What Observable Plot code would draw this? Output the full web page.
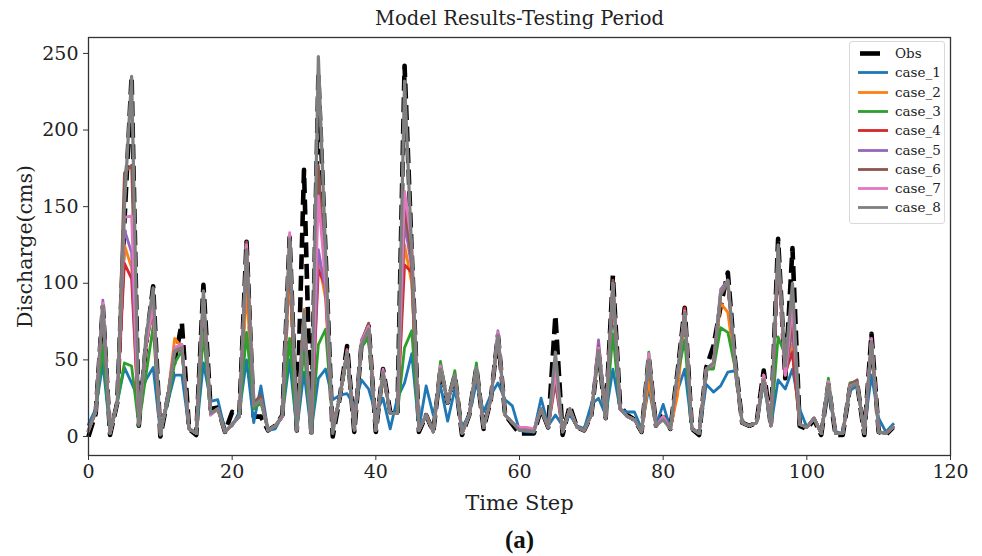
<!DOCTYPE html>
<html><head><meta charset="utf-8">
<script src="https://cdn.jsdelivr.net/npm/d3@7"></script>
<script src="https://cdn.jsdelivr.net/npm/@observablehq/plot@0.6"></script>
<style>
html,body{margin:0;padding:0;background:#fff;}
#wrap{position:relative;width:982px;height:556px;overflow:hidden;background:#fff;}
#legend{position:absolute;left:849px;top:41px;width:96px;height:183px;border:1px solid #d9d9d9;border-radius:3px;background:rgba(255,255,255,0.85);box-sizing:border-box;font-family:"DejaVu Serif";font-size:13.5px;color:#222;}
.row{position:absolute;left:0;height:19px;width:100%;}
.row svg{position:absolute;left:0;top:0;}
.row span{position:absolute;left:45px;top:1px;line-height:16px;}
</style>
</head><body>
<div id="wrap"><div id="legend"></div></div>
<script>
// Observed and simulated discharge (cms) for time steps 0..112
const obs = [0,15,85,1,22,140,235,7,60,98, 0,24,50,74,5,1,99,18,19,3, 16,14,127,13,13,4,7,14,130,4, 174,1,235,120,0,26,59,3,60,72, 3,44,16,14,242,120,3,14,3,44, 22,40,1,14,45,5,24,66,14,8, 2,2,2,18,6,79,1,20,6,4, 14,55,12,105,20,14,11,3,52,7, 16,5,42,84,5,1,45,59,85,107, 50,9,7,9,43,7,129,38,123,7, 5,11,1,34,1,1,32,35,1,67, 3,1,6];
const case1 = [8,18,48,3,22,45,35,24,37,45, 3,22,40,40,5,2,48,23,24,4, 7,16,50,9,33,4,5,14,50,4, 42,3,38,44,24,27,28,20,37,31, 15,25,5,25,35,54,5,33,14,33, 10,31,6,14,35,16,27,35,24,20, 4,3,3,25,7,14,7,14,7,5, 21,25,14,44,18,16,16,5,32,7, 21,5,30,44,5,2,34,29,33,42, 43,9,7,9,35,7,37,31,44,18, 6,12,2,30,3,2,30,33,5,40, 12,3,8];
const case2 = [4,16,85,2,22,125,110,8,60,85, 2,25,64,58,5,2,92,15,18,3, 8,13,96,20,24,4,7,13,110,4, 83,2,115,90,5,26,55,5,60,70, 4,42,15,15,125,100,4,14,3,45, 22,40,2,14,45,6,24,66,14,9, 5,5,4,18,6,45,3,18,6,4, 14,57,12,100,18,13,11,3,37,7, 13,5,27,80,5,2,44,46,87,81, 45,9,7,9,40,7,120,40,60,8, 6,12,2,35,2,2,32,35,2,62, 3,2,6];
const case3 = [4,16,59,2,22,48,46,7,40,72, 2,22,48,56,5,2,68,15,18,3, 8,13,68,18,22,4,7,13,64,4, 58,2,60,70,8,26,52,6,58,65, 4,42,15,15,58,69,4,14,3,49, 22,43,2,14,48,6,24,66,14,9, 5,5,4,18,6,40,3,18,6,4, 14,55,12,67,18,13,11,3,55,7, 13,5,40,63,5,2,44,44,71,68, 45,9,7,9,40,7,65,53,54,8, 6,12,2,38,2,2,35,36,2,62, 3,2,6];
const case4 = [4,16,85,2,22,113,103,8,58,85, 2,25,58,58,5,2,90,15,18,3, 8,13,118,20,24,4,7,13,120,4, 78,2,109,98,5,26,55,5,60,70, 4,42,15,15,112,107,4,14,3,45, 22,40,2,14,45,6,24,66,14,9, 5,5,4,18,6,40,3,18,6,4, 14,57,12,100,18,13,11,3,50,7, 13,5,40,84,5,2,44,47,93,100, 48,9,7,9,40,7,115,42,55,8, 6,12,2,35,2,2,32,35,2,62, 3,2,6];
const case5 = [4,16,89,2,22,135,120,8,60,85, 2,25,58,60,5,2,90,14,18,3, 8,13,120,20,24,4,7,13,125,4, 78,2,122,95,5,26,56,5,63,72, 4,42,15,15,140,110,4,14,3,46, 22,40,2,14,45,6,24,69,14,9, 5,5,4,18,6,45,3,18,6,4, 14,63,12,100,18,13,11,3,52,7, 13,5,40,82,5,2,44,48,96,102, 48,9,7,9,40,7,118,40,70,8, 6,12,2,35,2,2,32,35,2,62, 3,2,6];
const case6 = [4,16,85,2,22,172,177,8,60,83, 2,25,55,57,5,2,90,15,18,3, 8,13,127,22,27,4,7,13,128,4, 80,2,177,100,5,26,57,5,62,74, 4,42,15,15,150,115,4,14,3,45, 22,40,2,14,45,6,24,66,14,9, 5,5,4,18,6,35,3,18,6,4, 14,59,12,102,18,13,11,3,50,7, 13,5,40,82,5,2,44,47,92,100, 48,9,7,9,40,7,118,42,75,8, 6,12,2,35,2,2,34,37,2,63, 3,2,6];
const case7 = [4,16,87,2,22,143,144,8,60,85, 2,25,58,60,5,2,90,14,18,3, 8,13,125,20,24,4,7,13,133,4, 80,2,157,100,5,26,56,5,62,72, 4,44,15,15,160,125,4,14,3,46, 22,40,2,14,45,6,24,68,14,9, 6,6,5,18,6,42,3,18,6,4, 14,58,12,100,18,13,11,3,54,7, 13,5,40,82,5,2,44,47,94,102, 48,9,7,9,40,7,122,40,85,8, 6,12,2,36,2,2,33,35,2,64, 3,2,6];
const case8 = [4,16,85,2,22,150,235,8,65,97, 1,25,56,58,5,2,95,15,18,3, 8,13,122,20,24,4,7,14,129,4, 82,2,248,120,2,27,55,4,60,70, 4,42,15,15,232,120,4,14,3,44, 22,40,2,14,45,6,24,66,14,9, 4,4,3,18,6,55,3,18,6,4, 14,56,12,100,18,13,11,3,50,7, 11,5,42,81,5,2,44,48,93,102, 50,9,7,9,37,7,125,46,100,8, 6,12,2,34,2,2,32,35,2,62, 3,2,6];

const seriesNames = ["Obs","case_1","case_2","case_3","case_4","case_5","case_6","case_7","case_8"];
const seriesValues = [obs, case1, case2, case3, case4, case5, case6, case7, case8];
const xTicks = [0,20,40,60,80,100,120];
const yTicks = [0,50,100,150,200,250];
const titleText = "Model Results-Testing Period";
const xLabel = "Time Step";
const yLabel = "Discharge(cms)";
const captionText = "(a)";

// styles (kept separate from data)
const colors = ["#000000","#1f77b4","#ff7f0e","#2ca02c","#d62728","#9467bd","#8c564b","#e377c2","#7f7f7f"];

const rows = seriesNames.map((name, k) => seriesValues[k].map((v, i) => ({t: i, v, name})));

const marks = [];
marks.push(Plot.line(rows[0], {x: "t", y: "v", stroke: colors[0], strokeWidth: 4.6, strokeDasharray: "15,6.5", strokeLinejoin: "round", strokeLinecap: "butt"}));
for (let k = 1; k < seriesNames.length; k++) {
  marks.push(Plot.line(rows[k], {x: "t", y: "v", stroke: colors[k], strokeWidth: k === 8 ? 3.2 : 2.8, strokeLinejoin: "round", strokeLinecap: "square"}));
}
marks.push(
  Plot.axisX({ticks: xTicks, tickSize: 5, tickPadding: 4, label: null, stroke: "#333", fontSize: 19}),
  Plot.axisY({ticks: yTicks, tickSize: 5, tickPadding: 5, label: null, stroke: "#333", fontSize: 19}),
  Plot.frame({stroke: "#333", strokeWidth: 1.3}),
  Plot.text([titleText], {text: d => d, frameAnchor: "top", lineAnchor: "middle", textAnchor: "middle", dy: -19, fontSize: 19.5, fill: "#222"}),
  Plot.text([xLabel], {text: d => d, frameAnchor: "bottom", lineAnchor: "middle", textAnchor: "middle", dy: 48, fontSize: 21, fill: "#222"}),
  Plot.text([yLabel], {text: d => d, frameAnchor: "left", lineAnchor: "middle", textAnchor: "middle", dx: -63, rotate: -90, fontSize: 20.5, fill: "#222"}),
  Plot.text([captionText], {text: d => d, frameAnchor: "bottom", lineAnchor: "middle", textAnchor: "middle", dy: 84, fontSize: 25, fontWeight: "bold", fontFamily: "Liberation Serif", fill: "#111"})
);

const chart = Plot.plot({
  width: 982, height: 556,
  marginLeft: 88, marginRight: 32, marginTop: 37, marginBottom: 101,
  style: {fontFamily: "DejaVu Serif", fontSize: "19px", color: "#222", background: "#fff", overflow: "visible"},
  x: {domain: [0, 120]},
  y: {domain: [-12.4, 260.4]},
  marks
});
const wrap = document.getElementById("wrap");
wrap.insertBefore(chart, wrap.firstChild);
chart.style.position = "absolute"; chart.style.left = "0"; chart.style.top = "0";

// legend
const legend = document.getElementById("legend");
seriesNames.forEach((name, k) => {
  const row = document.createElement("div");
  row.className = "row";
  row.style.top = (2 + 19.3 * k) + "px";
  const svg = d3.create("svg").attr("width", 40).attr("height", 19);
  if (k === 0) {
    svg.append("line").attr("x1", 10).attr("x2", 30).attr("y1", 9.5).attr("y2", 9.5)
      .attr("stroke", colors[k]).attr("stroke-width", 4.6);
  } else {
    svg.append("line").attr("x1", 8).attr("x2", 38).attr("y1", 9.5).attr("y2", 9.5)
      .attr("stroke", colors[k]).attr("stroke-width", 2.8);
  }
  row.appendChild(svg.node());
  const span = document.createElement("span");
  span.textContent = name;
  row.appendChild(span);
  legend.appendChild(row);
});
</script>
</body></html>
